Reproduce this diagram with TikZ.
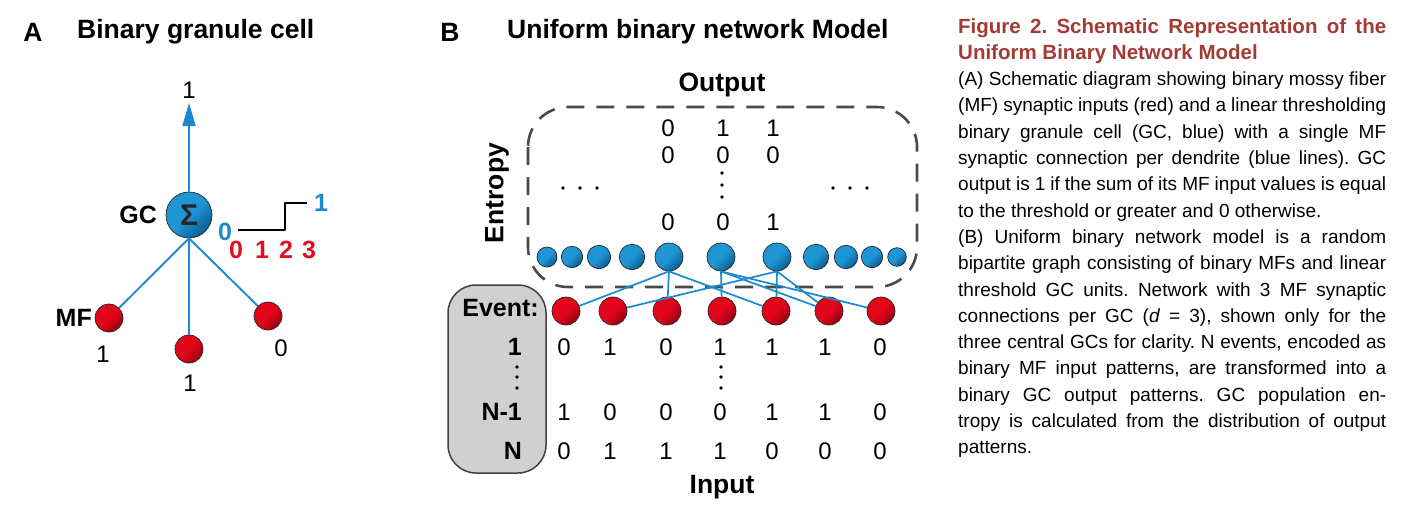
\documentclass[tikz,border=0pt]{standalone}
\usepackage{fontspec}
\setmainfont{Liberation Sans}
\usetikzlibrary{arrows.meta}
\definecolor{gcblue}{HTML}{1E96D4}
\definecolor{gcdark}{HTML}{0A5C92}
\definecolor{mfred}{HTML}{E3061B}
\definecolor{mfdark}{HTML}{960010}
\definecolor{linblue}{HTML}{1A8AD0}
\definecolor{numred}{HTML}{DF1020}
\definecolor{capred}{HTML}{A33B34}
\definecolor{boxgray}{HTML}{D0D0D0}
\definecolor{dashgray}{HTML}{4A4A4A}
\begin{document}
\begin{tikzpicture}[x=1pt,y=-1pt,line join=round,
		gcball/.style={circle,draw=black!85,line width=0.7pt,inner sep=0pt,minimum size=#1,
			top color=gcblue,bottom color=gcdark,middle color=gcblue,shading angle=45},
		gcball/.default=28pt,
		mfball/.style={circle,draw=black!85,line width=0.7pt,inner sep=0pt,minimum size=28pt,
			top color=mfred,bottom color=mfdark,middle color=mfred,shading angle=45},
		dend/.style={draw=linblue,line width=1.9pt},
		syn/.style={draw=linblue,line width=1.7pt},
		num/.style={inner sep=0pt,font=\fontsize{24}{24}\selectfont},
		lab/.style={inner sep=0pt,font=\fontsize{25}{25}\selectfont\bfseries},
		head/.style={inner sep=0pt,font=\fontsize{26.5}{26.5}\selectfont\bfseries}]
		\useasboundingbox (0,0) rectangle (1414,525);
		% A
		\node[head] (lA) at (33,32) {A};
		\node[head,anchor=west] (tA) at (77,32) {Binary granule cell};
		\node[gcball=46pt,font=\fontsize{30}{30}\selectfont\bfseries,text=black!85] (gc) at (189,215) {Σ};
		\node[lab,anchor=east] (gcl) at (157,215) {GC};
		\coordinate (gctop) at (189,103);
		\draw[dend,-{Triangle[length=23pt,width=13pt]}] (gc.north) -- (gctop);
		\node[num] (gco) at (189,90) {1};
		\node[lab,text=linblue] (th0) at (225,232) {0};
		\node[lab,text=linblue] (th1) at (321,203) {1};
		\draw[line width=1.5pt] (238,230) -- (285,230) -- (285,203) -- (307,203);
		\foreach \x/\v [count=\i] in {236/0,262/1,286/2,309/3}
			\node[lab,text=numred] (s\i) at (\x,250) {\v};
		\node[mfball] (mfA1) at (109,318) {};
		\node[mfball] (mfA2) at (189,349) {};
		\node[mfball] (mfA3) at (268,316) {};
		\foreach \m in {mfA1,mfA2,mfA3}
			\draw[dend] (gc.south) -- (\m);
		\node[lab,anchor=east] (mfl) at (92,318) {MF};
		\node[num] (va1) at (103,354) {1};
		\node[num] (va2) at (190,383) {1};
		\node[num] (va3) at (281,348) {0};
		% B
		\node[head] (lB) at (450,32) {B};
		\node[head,anchor=west] (tB) at (507,32) {Uniform binary network Model};
		\node[head] (outl) at (722,85) {Output};
		\node[head,rotate=90] (entl) at (497,193) {Entropy};
		\draw[dashgray,line width=2.6pt,dash pattern=on 18pt off 12pt,rounded corners=40pt]
			(528,107) rectangle (917,287);
		\fill[boxgray,draw=black!75,line width=1.5pt,rounded corners=28pt] (448,285) rectangle (546,473);
		\foreach \x/\r [count=\i] in {547/10,572/10.7,599/11.7,632/12.7,669/14,721/14,777/14,816/12.7,846/11.7,872/10.7,897/9.3}
			\node[gcball=2*\r pt] (g\i) at (\x,257) {};
		\foreach \x [count=\i] in {566,613,667,722,776,829,881}
			\node[mfball] (m\i) at (\x,311) {};
		\foreach \g/\m in {5/1,5/3,5/5,6/4,6/6,6/7,7/2,7/5,7/6}
			\draw[syn] (g\g.south) -- (m\m);
		\foreach \x/\a/\b/\c [count=\i] in {668/0/0/0,723/1/0/0,773/1/0/1}{
			\node[num] (o\i-1) at (\x,128) {\a};
			\node[num] (o\i-2) at (\x,155) {\b};
			\node[num] (o\i-3) at (\x,222) {\c};
		}
		\foreach \y in {173,185,197}
			\fill (722,\y) circle (1.9pt);
		\foreach \x in {563,580,597,833,850,867}
			\fill (\x,188) circle (1.9pt);
		\foreach \x/\a/\b/\c [count=\i] in {564/0/1/0,610/1/0/1,666/0/0/1,720/1/0/1,772/1/1/0,825/1/1/0,880/0/0/0}{
			\node[num] (i\i-1) at (\x,347) {\a};
			\node[num] (i\i-2) at (\x,412) {\b};
			\node[num] (i\i-3) at (\x,451) {\c};
		}
		\foreach \y in {367,377,388}{
			\fill (721,\y) circle (1.9pt);
			\fill (517,\y) circle (1.9pt);
		}
		\node[lab,anchor=east] (ev) at (539,308) {Event:};
		\node[lab,anchor=east] (ev1) at (522,347) {1};
		\node[lab,anchor=east] (ev2) at (522,412) {N-1};
		\node[lab,anchor=east] (ev3) at (522,451) {N};
		\node[head] (inl) at (722,487) {Input};
		% caption
		\node[anchor=north west,text width=428pt,align=justify,inner sep=0pt,
			font=\fontsize{19}{26.3}\selectfont\frenchspacing] (cap) at (958,18) {%
			{\fontsize{20.5}{26.3}\selectfont\bfseries\color{capred}Figure 2.\ Schematic Representation of the\linebreak
			Uniform Binary Network Model\par}
			(A) Schematic diagram showing binary mossy fiber\linebreak
			(MF) synaptic inputs (red) and a linear thresholding\linebreak
			binary granule cell (GC, blue) with a single MF\linebreak
			synaptic connection per dendrite (blue lines). GC\linebreak
			output is 1 if the sum of its MF input values is equal\linebreak
			to the threshold or greater and 0 otherwise.\par
			(B) Uniform binary network model is a random\linebreak
			bipartite graph consisting of binary MFs and linear\linebreak
			threshold GC units. Network with 3 MF synaptic\linebreak
			connections per GC (\textit{d} = 3), shown only for the\linebreak
			three central GCs for clarity. N events, encoded as\linebreak
			binary MF input patterns, are transformed into a\linebreak
			binary GC output patterns. GC population en-\linebreak
			tropy is calculated from the distribution of output\linebreak
			patterns.};
\end{tikzpicture}
\end{document}
